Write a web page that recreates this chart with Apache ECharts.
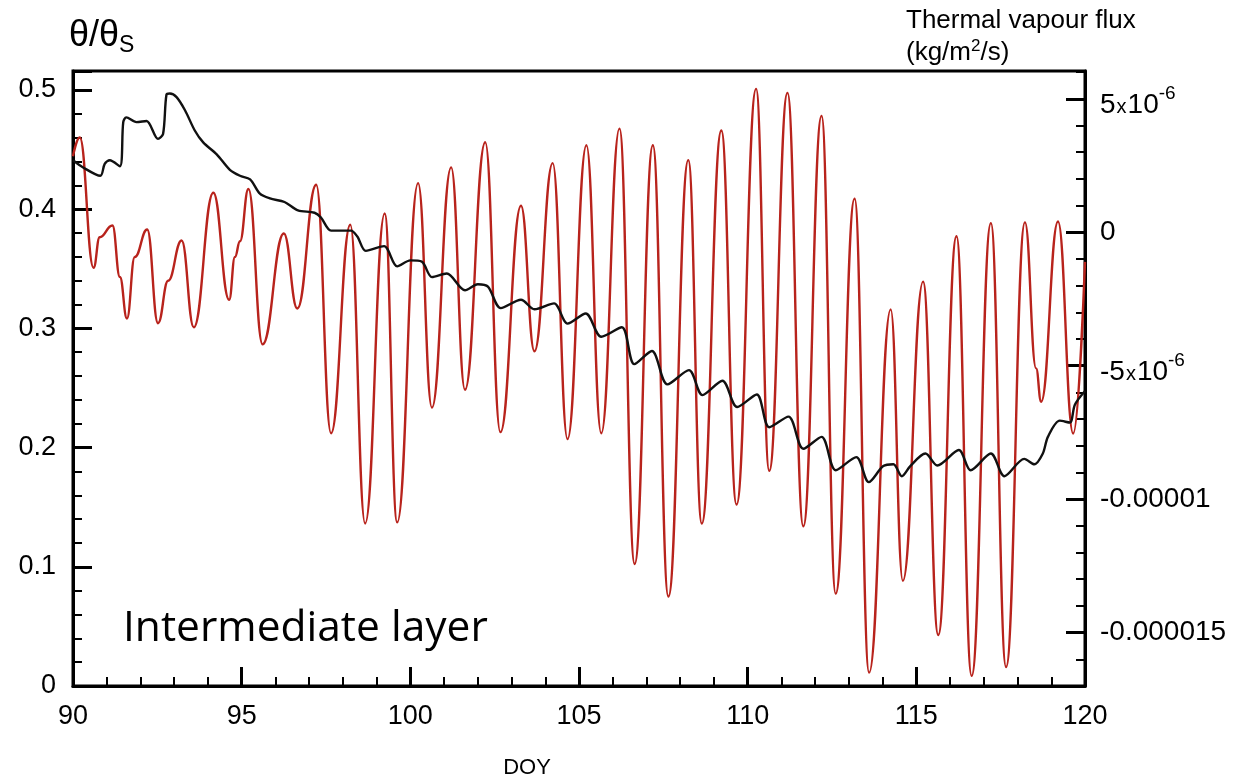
<!DOCTYPE html>
<html>
<head>
<meta charset="utf-8">
<script src="https://cdn.jsdelivr.net/npm/echarts@6/dist/echarts.min.js"></script>
<style>
html,body{margin:0;padding:0;background:#fff;}
#chart{width:1234px;height:779px;}
</style>
</head>
<body>
<div id="chart"></div>
<script>
// ---- tick labels ----
const doyTicks = [90, 95, 100, 105, 110, 115, 120];
const doyTickLabels = ['90', '95', '100', '105', '110', '115', '120'];
const thetaTicks = [0, 0.1, 0.2, 0.3, 0.4, 0.5];
const thetaTickLabels = ['0', '0.1', '0.2', '0.3', '0.4', '0.5'];
// right axis ticks, in units of 1e-6 kg/m2/s
const fluxTicks = [-15, -10, -5, 0, 5];
const fluxTickLabels = ['-0.000015', '-0.00001', '-5x10^-6', '0', '5x10^-6'];

// ---- theta / theta_s (black line, left axis) ----
const thetaDOY = [90.0, 90.3, 90.81, 90.94, 91.09, 91.39, 91.49, 91.58, 91.88, 92.18, 92.52, 92.67, 92.77, 92.87, 93.07, 93.32, 93.61, 93.86, 94.26, 94.65, 94.95, 95.25, 95.54, 95.84, 96.27, 96.67, 97.16, 97.35, 97.65, 98.24, 98.43, 98.68, 99.22, 99.61, 100.0, 100.34, 100.64, 101.08, 101.62, 102.0, 102.3, 102.68, 103.28, 103.68, 104.26, 104.66, 105.2, 105.66, 106.27, 106.64, 107.16, 107.62, 108.26, 108.66, 109.25, 109.69, 110.27, 110.64, 111.21, 111.65, 112.19, 112.61, 113.22, 113.59, 114.02, 114.32, 114.57, 114.82, 115.27, 115.62, 116.26, 116.61, 117.21, 117.61, 118.2, 118.5, 118.75, 118.9, 119.25, 119.55, 119.7, 120.0];
const thetaVal = [0.441, 0.435, 0.428, 0.438, 0.441, 0.436, 0.473, 0.477, 0.473, 0.474, 0.459, 0.463, 0.496, 0.497, 0.494, 0.483, 0.466, 0.456, 0.446, 0.433, 0.428, 0.425, 0.413, 0.409, 0.406, 0.399, 0.397, 0.393, 0.382, 0.382, 0.377, 0.365, 0.369, 0.352, 0.357, 0.356, 0.343, 0.346, 0.332, 0.337, 0.335, 0.317, 0.324, 0.316, 0.321, 0.304, 0.3125, 0.293, 0.301, 0.270, 0.281, 0.253, 0.265, 0.244, 0.256, 0.234, 0.2445, 0.217, 0.226, 0.199, 0.209, 0.181, 0.192, 0.171, 0.1845, 0.186, 0.176, 0.1845, 0.195, 0.185, 0.198, 0.181, 0.195, 0.176, 0.1905, 0.186, 0.195, 0.209, 0.2226, 0.221, 0.236, 0.2475];

// ---- thermal vapour flux (red line, right axis), units of 1e-6 kg/m2/s ----
const fluxDOY = [90.0, 90.2, 90.61, 90.79, 91.17, 91.39, 91.6, 91.83, 92.2, 92.52, 92.82, 93.22, 93.58, 94.16, 94.63, 94.8, 94.95, 95.2, 95.62, 96.25, 96.65, 97.21, 97.65, 98.22, 98.66, 99.24, 99.61, 100.23, 100.64, 101.21, 101.62, 102.22, 102.67, 103.28, 103.68, 104.22, 104.66, 105.22, 105.66, 106.2, 106.65, 107.19, 107.65, 108.24, 108.64, 109.22, 109.67, 110.25, 110.64, 111.18, 111.65, 112.19, 112.61, 113.17, 113.6, 114.24, 114.6, 115.2, 115.65, 116.19, 116.64, 117.21, 117.66, 118.22, 118.55, 118.7, 119.2, 119.65, 120.0];
const fluxVal = [2.85, 3.55, -1.33, -0.19, 0.25, -1.68, -3.23, -0.93, 0.10, -3.41, -1.82, -0.31, -3.56, 1.48, -2.53, -0.93, -0.34, 1.62, -4.2, -0.05, -2.86, 1.78, -7.53, 0.28, -10.91, 0.70, -10.87, 1.84, -6.57, 2.43, -5.9, 3.37, -7.49, 0.99, -4.46, 2.59, -7.75, 3.26, -7.53, 3.88, -12.43, 3.26, -13.65, 2.70, -10.91, 3.81, -10.2, 5.37, -8.94, 5.22, -11.02, 4.36, -13.54, 1.26, -16.5, -2.89, -13.06, -1.85, -15.09, -0.15, -16.62, 0.34, -16.29, 0.37, -5.1, -6.35, 0.40, -7.54, -1.11];

const FONT = '"Liberation Sans", Arial, sans-serif';

function labelFor(ticks, labels, v) {
  for (let i = 0; i < ticks.length; i++) {
    if (Math.abs(ticks[i] - v) < 1e-6) return labels[i];
  }
  return '';
}
function fluxLabelRich(s) {
  const m = s.match(/^(-?\d+)x10\^(-?\d+)$/);
  if (m) return '{n|' + m[1] + '}{x|x}{n|10}{s|' + m[2] + '}';
  return '{p|' + s + '}';
}

const chart = echarts.init(document.getElementById('chart'));
const thetaTop = 0.5159;
const fluxMin = -17, fluxMax = 6.04;

const option = {
  animation: false,
  backgroundColor: '#fff',
  grid: {
    left: 73, right: 149, top: 71, bottom: 93,
    show: true, borderColor: '#000', borderWidth: 3, backgroundColor: 'transparent',
    containLabel: false
  },
  xAxis: [
    {
      type: 'value', min: 90, max: 120, interval: 5, position: 'bottom',
      axisLine: { show: true, lineStyle: { color: '#000', width: 3 } },
      axisTick: { show: true, inside: true, length: 19, lineStyle: { color: '#000', width: 3 } },
      axisLabel: {
        show: true, margin: 17, color: '#000', fontSize: 27, fontFamily: FONT,
        formatter: v => labelFor(doyTicks, doyTickLabels, v)
      },
      splitLine: { show: false }
    },
    {
      type: 'value', min: 90, max: 120, interval: 1, position: 'bottom',
      axisLine: { show: false },
      axisTick: { show: true, inside: true, length: 9, lineStyle: { color: '#000', width: 2 } },
      axisLabel: { show: false },
      splitLine: { show: false }
    }
  ],
  yAxis: [
    {
      type: 'value', min: 0, max: thetaTop, interval: 0.1, position: 'left',
      axisLine: { show: true, lineStyle: { color: '#000', width: 3 } },
      axisTick: { show: true, inside: true, length: 19, lineStyle: { color: '#000', width: 3 } },
      axisLabel: {
        show: true, margin: 17, color: '#000', fontSize: 27, fontFamily: FONT,
        formatter: v => labelFor(thetaTicks, thetaTickLabels, v)
      },
      splitLine: { show: false }
    },
    {
      type: 'value', min: 0, max: thetaTop, interval: 0.02, position: 'left',
      axisLine: { show: false },
      axisTick: { show: true, inside: true, length: 9, lineStyle: { color: '#000', width: 2 } },
      axisLabel: { show: false },
      splitLine: { show: false }
    },
    {
      type: 'value', min: fluxMin, max: fluxMax, position: 'right',
      axisLine: { show: true, lineStyle: { color: '#000', width: 3 } },
      axisTick: { show: true, inside: true, length: 19, customValues: fluxTicks, lineStyle: { color: '#000', width: 3 } },
      axisLabel: {
        show: true, margin: 15, color: '#000', fontFamily: FONT, fontSize: 28,
        customValues: fluxTicks,
        formatter: v => fluxLabelRich(labelFor(fluxTicks, fluxTickLabels, v)),
        rich: {
          n: { fontSize: 28, fontFamily: FONT, color: '#000', padding: [14, 0, 0, 0] },
          x: { fontSize: 20, fontFamily: FONT, color: '#000', padding: [17, 1, 0, 1] },
          s: { fontSize: 19, fontFamily: FONT, color: '#000', padding: [0, 0, 9, 0] },
          p: { fontSize: 28, fontFamily: FONT, color: '#000' }
        }
      },
      splitLine: { show: false }
    },
    {
      type: 'value', min: fluxMin, max: fluxMax, interval: 1, position: 'right',
      axisLine: { show: false },
      axisTick: { show: true, inside: true, length: 9, lineStyle: { color: '#000', width: 2 } },
      axisLabel: { show: false },
      splitLine: { show: false }
    }
  ],
  series: [
    {
      name: 'theta', type: 'line', xAxisIndex: 0, yAxisIndex: 0,
      data: thetaDOY.map((d, i) => [d, thetaVal[i]]),
      showSymbol: false, smooth: 0.3,
      lineStyle: { color: '#111', width: 2.4 }, z: 3
    },
    {
      name: 'flux', type: 'line', xAxisIndex: 0, yAxisIndex: 2,
      data: fluxDOY.map((d, i) => [d, fluxVal[i]]),
      showSymbol: false, smooth: 0.45, smoothMonotone: 'x',
      lineStyle: { color: '#b8231c', width: 2.4 }, z: 2
    }
  ],
  graphic: [
    { type: 'text', x: 69, y: 36, style: { text: 'θ/θ', font: '36px ' + FONT, fill: '#000', verticalAlign: 'middle', align: 'left' } },
    { type: 'text', x: 119, y: 46, style: { text: 'S', font: '23px ' + FONT, fill: '#000', verticalAlign: 'middle', align: 'left' } },
    { type: 'text', x: 906, y: 21, style: { text: 'Thermal vapour flux', font: '26px ' + FONT, fill: '#000', verticalAlign: 'middle', align: 'left' } },
    { type: 'text', x: 906, y: 49, style: {
        text: '{a|(kg/m}{s|2}{a|/s)}', verticalAlign: 'middle', align: 'left',
        rich: {
          a: { fontSize: 26, fontFamily: FONT, fill: '#000', color: '#000', padding: [8, 0, 0, 0] },
          s: { fontSize: 17, fontFamily: FONT, fill: '#000', color: '#000', padding: [0, 0, 6, 0] }
        }
      } },
    { type: 'text', x: 123, y: 629, style: { text: 'Intermediate layer', font: '42.5px "Open Sans", Lato, sans-serif', fill: '#000', verticalAlign: 'middle', align: 'left' } },
    { type: 'text', x: 527, y: 768, style: { text: 'DOY', font: '22px ' + FONT, fill: '#000', verticalAlign: 'middle', align: 'center' } }
  ]
};
chart.setOption(option);
</script>
</body>
</html>
